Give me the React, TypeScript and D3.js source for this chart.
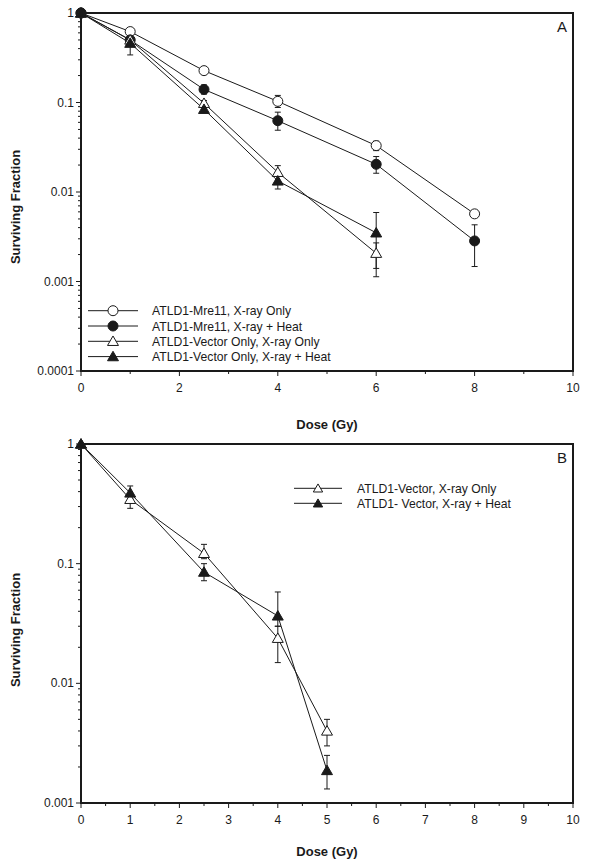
import React from "react";
import * as d3 from "d3";

// Panel A data
const doseA1 = [0, 1, 2.5, 4, 6, 8];
const mreXray = [1, 0.62, 0.227, 0.103, 0.033, 0.0057];
const mreXrayLo = [1, 0.58, 0.215, 0.088, 0.029, 0.0054];
const mreXrayHi = [1, 0.66, 0.24, 0.12, 0.037, 0.006];
const mreHeat = [1, 0.5, 0.14, 0.0626, 0.0204, 0.00284];
const mreHeatLo = [1, 0.44, 0.124, 0.049, 0.0162, 0.00147];
const mreHeatHi = [1, 0.56, 0.157, 0.078, 0.0249, 0.0043];

const doseA2 = [0, 1, 2.5, 4, 6];
const vecXray = [1, 0.5, 0.098, 0.0166, 0.00207];
const vecXrayLo = [1, 0.45, 0.09, 0.015, 0.00113];
const vecXrayHi = [1, 0.55, 0.105, 0.0197, 0.0027];
const vecHeat = [1, 0.46, 0.084, 0.0133, 0.0035];
const vecHeatLo = [1, 0.34, 0.079, 0.0108, 0.0014];
const vecHeatHi = [1, 0.52, 0.09, 0.0155, 0.0059];

// Panel B data
const doseB = [0, 1, 2.5, 4, 5];
const bXray = [1, 0.345, 0.122, 0.0238, 0.004];
const bXrayLo = [1, 0.29, 0.11, 0.0149, 0.003];
const bXrayHi = [1, 0.38, 0.145, 0.03, 0.005];
const bHeat = [1, 0.39, 0.085, 0.0366, 0.00187];
const bHeatLo = [1, 0.35, 0.072, 0.03, 0.00131];
const bHeatHi = [1, 0.446, 0.1, 0.058, 0.0025];

const legendA = [
  "ATLD1-Mre11, X-ray Only",
  "ATLD1-Mre11, X-ray + Heat",
  "ATLD1-Vector Only, X-ray Only",
  "ATLD1-Vector Only, X-ray + Heat",
];
const legendB = ["ATLD1-Vector, X-ray Only", "ATLD1- Vector, X-ray + Heat"];

const yTicksA = [1, 0.1, 0.01, 0.001, 0.0001];
const yTickLabelsA = ["1", "0.1", "0.01", "0.001", "0.0001"];
const yTicksB = [1, 0.1, 0.01, 0.001];
const yTickLabelsB = ["1", "0.1", "0.01", "0.001"];
const xTicksA = [0, 2, 4, 6, 8, 10];
const xTicksB = [0, 1, 2, 3, 4, 5, 6, 7, 8, 9, 10];

const FONT = "'Liberation Sans', Arial, sans-serif";
const INK = "#1a1a1a";

type Marker = "circleOpen" | "circleFilled" | "triOpen" | "triFilled";

function MarkerShape({ kind, x, y, scale = 1 }: { kind: Marker; x: number; y: number; scale?: number }) {
  const fill = kind.endsWith("Filled") ? INK : "#fff";
  if (kind.startsWith("circle")) {
    return <circle cx={x} cy={y} r={5 * scale} fill={fill} stroke={INK} strokeWidth={1} />;
  }
  const p = d3.symbol().type(d3.symbolTriangle).size(52 * scale * scale)()!;
  return (
    <path d={p} transform={`translate(${x},${y + 1})`} fill={fill} stroke={INK} strokeWidth={1} />
  );
}

type Series = { x: number[]; y: number[]; lo: number[]; hi: number[]; marker: Marker };

function Panel({
  top,
  bottom,
  yMin,
  yTicks,
  yTickLabels,
  xTicks,
  xMinor,
  series,
  letter,
  legend,
  legendX,
  legendY,
  legendStep,
  legendTextX,
  legendMarkerScale,
  ylabelY,
  xlabelOffset,
}: {
  top: number;
  bottom: number;
  yMin: number;
  yTicks: number[];
  yTickLabels: string[];
  xTicks: number[];
  xMinor: number[];
  series: Series[];
  letter: string;
  legend: string[];
  legendX: [number, number];
  legendY: number;
  legendStep: number;
  legendTextX: number;
  legendMarkerScale: number;
  ylabelY: number;
  xlabelOffset: number;
}) {
  const left = 81;
  const right = 573;
  const x = d3.scaleLinear().domain([0, 10]).range([left, right]);
  const y = d3.scaleLog().domain([yMin, 1]).range([bottom, top]);
  const minor: number[] = [];
  for (let e = Math.round(Math.log10(yMin)); e < 0; e++) {
    for (let m = 2; m <= 9; m++) minor.push(m * Math.pow(10, e));
  }
  const line = d3
    .line<[number, number]>()
    .x((d) => x(d[0]))
    .y((d) => y(d[1]));
  const capW = 3;
  return (
    <g>
      {/* frame */}
      <rect x={left} y={top} width={right - left} height={bottom - top} fill="none" stroke={INK} strokeWidth={2} />
      {/* y ticks */}
      {yTicks.map((t, i) => (
        <g key={"yt" + i}>
          <line x1={left - 5} x2={left} y1={y(t)} y2={y(t)} stroke={INK} strokeWidth={1} />
          <text x={left - 7} y={y(t) + 4} textAnchor="end" fontSize={12} fontFamily={FONT} fill={INK}>
            {yTickLabels[i]}
          </text>
        </g>
      ))}
      {minor.map((t, i) => (
        <line key={"ym" + i} x1={left - 3} x2={left + 1} y1={y(t)} y2={y(t)} stroke={INK} strokeWidth={1} />
      ))}
      {/* x ticks */}
      {xTicks.map((t, i) => (
        <g key={"xt" + i}>
          <line x1={x(t)} x2={x(t)} y1={bottom} y2={bottom + 5} stroke={INK} strokeWidth={1} />
          <text x={x(t)} y={bottom + 21} textAnchor="middle" fontSize={12} fontFamily={FONT} fill={INK}>
            {t}
          </text>
        </g>
      ))}
      {xMinor.map((t, i) => (
        <line key={"xm" + i} x1={x(t)} x2={x(t)} y1={bottom} y2={bottom + 3} stroke={INK} strokeWidth={1} />
      ))}
      {/* axis titles */}
      <text
        x={(left + right) / 2}
        y={bottom + xlabelOffset}
        textAnchor="middle"
        fontSize={13}
        fontWeight="bold"
        fontFamily={FONT}
        fill={INK}
      >
        Dose (Gy)
      </text>
      <text
        transform={`translate(20,${ylabelY}) rotate(-90)`}
        textAnchor="middle"
        fontSize={13}
        fontWeight="bold"
        fontFamily={FONT}
        fill={INK}
      >
        Surviving Fraction
      </text>
      <text x={right - 11} y={top + 19} textAnchor="middle" fontSize={15} fontFamily={FONT} fill={INK}>
        {letter}
      </text>
      {/* lines */}
      {series.map((s, si) => (
        <path
          key={"l" + si}
          d={line(s.x.map((v, i) => [v, s.y[i]] as [number, number]))!}
          fill="none"
          stroke={INK}
          strokeWidth={1}
        />
      ))}
      {/* error bars */}
      {series.map((s, si) =>
        s.x.map((v, i) =>
          s.lo[i] === s.hi[i] ? null : (
            <g key={"e" + si + "-" + i} stroke={INK} strokeWidth={1}>
              <line x1={x(v)} x2={x(v)} y1={y(s.lo[i])} y2={y(s.hi[i])} />
              <line x1={x(v) - capW} x2={x(v) + capW} y1={y(s.lo[i])} y2={y(s.lo[i])} />
              <line x1={x(v) - capW} x2={x(v) + capW} y1={y(s.hi[i])} y2={y(s.hi[i])} />
            </g>
          )
        )
      )}
      {/* markers */}
      {series.map((s, si) =>
        s.x.map((v, i) => <MarkerShape key={"m" + si + "-" + i} kind={s.marker} x={x(v)} y={y(s.y[i])} />)
      )}
      {/* legend */}
      {legend.map((label, i) => {
        const ly = legendY + i * legendStep;
        return (
          <g key={"lg" + i}>
            <line x1={legendX[0]} x2={legendX[1]} y1={ly} y2={ly} stroke={INK} strokeWidth={1} />
            <MarkerShape
              kind={series[i].marker}
              x={(legendX[0] + legendX[1]) / 2}
              y={ly}
              scale={legendMarkerScale}
            />
            <text x={legendTextX} y={ly + 4.5} fontSize={12.2} fontFamily={FONT} fill={INK}>
              {label}
            </text>
          </g>
        );
      })}
    </g>
  );
}

export default function App() {
  const seriesA: Series[] = [
    { x: doseA1, y: mreXray, lo: mreXrayLo, hi: mreXrayHi, marker: "circleOpen" },
    { x: doseA1, y: mreHeat, lo: mreHeatLo, hi: mreHeatHi, marker: "circleFilled" },
    { x: doseA2, y: vecXray, lo: vecXrayLo, hi: vecXrayHi, marker: "triOpen" },
    { x: doseA2, y: vecHeat, lo: vecHeatLo, hi: vecHeatHi, marker: "triFilled" },
  ];
  const seriesB: Series[] = [
    { x: doseB, y: bXray, lo: bXrayLo, hi: bXrayHi, marker: "triOpen" },
    { x: doseB, y: bHeat, lo: bHeatLo, hi: bHeatHi, marker: "triFilled" },
  ];
  const minorA = [1, 3, 5, 7, 9];
  const minorB = d3.range(0.5, 10, 1);
  return (
    <svg
      width={589}
      height={868}
      style={{ position: "absolute", left: 0, top: 0, background: "#fff" }}
    >
      <rect width={589} height={868} fill="#fff" />
      <Panel
        top={13}
        bottom={371}
        yMin={0.0001}
        yTicks={yTicksA}
        yTickLabels={yTickLabelsA}
        xTicks={xTicksA}
        xMinor={minorA}
        series={seriesA}
        letter="A"
        legend={legendA}
        legendX={[88, 138]}
        legendY={310.7}
        legendStep={15.3}
        legendTextX={152}
        legendMarkerScale={1}
        ylabelY={207}
        xlabelOffset={58}
      />
      <Panel
        top={444}
        bottom={803}
        yMin={0.001}
        yTicks={yTicksB}
        yTickLabels={yTickLabelsB}
        xTicks={xTicksB}
        xMinor={minorB}
        series={seriesB}
        letter="B"
        legend={legendB}
        legendX={[294, 342]}
        legendY={488.3}
        legendStep={15}
        legendTextX={357}
        legendMarkerScale={0.85}
        ylabelY={630}
        xlabelOffset={53}
      />
    </svg>
  );
}
